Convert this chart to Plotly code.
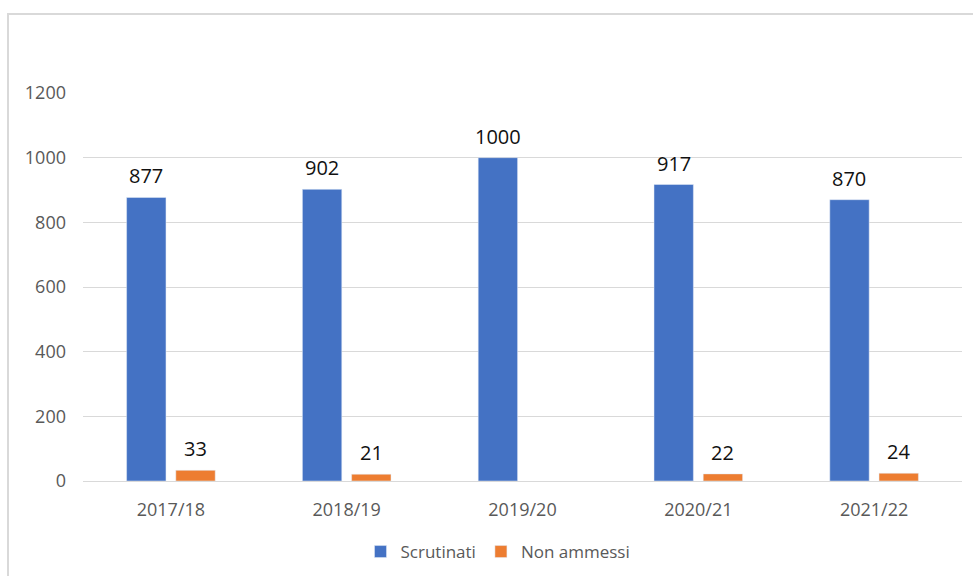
import plotly.graph_objects as go

anni = ["2017/18", "2018/19", "2019/20", "2020/21", "2021/22"]
scrutinati = [877, 902, 1000, 917, 870]
non_ammessi = [33, 21, None, 22, 24]

BLU = "#4472C4"
ARANCIO = "#ED7D31"
FONT = "Open Sans, Liberation Sans, sans-serif"

fig = go.Figure()
fig.add_trace(go.Bar(name="Scrutinati", x=anni, y=scrutinati, marker_color=BLU))
fig.add_trace(go.Bar(name="Non ammessi", x=anni, y=non_ammessi, marker_color=ARANCIO))

# value labels above each bar
slot = 0.28
for serie, off in ((scrutinati, -slot / 2), (non_ammessi, slot / 2)):
    for i, v in enumerate(serie):
        if v is None:
            continue
        fig.add_annotation(x=i + off, y=v, text=str(v), showarrow=False,
                           yanchor="bottom", yshift=6,
                           font=dict(family=FONT, size=20, color="#111111"))

# outer chart frame
fig.add_shape(type="rect", xref="paper", yref="paper",
              x0=(8 - 83) / 879, x1=1.1, y0=-0.5, y1=(481 - 14) / 388,
              line=dict(color="#d9d9d9", width=2), fillcolor="rgba(0,0,0,0)")

fig.update_layout(
    width=973, height=576,
    margin=dict(l=83, r=11, t=93, b=95),
    paper_bgcolor="white", plot_bgcolor="white",
    barmode="group", bargap=0.44, bargroupgap=0.2,
    font=dict(family=FONT, size=17, color="#595959"),
    legend=dict(orientation="h", xref="container", yref="container",
                x=498 / 973, xanchor="center",
                y=1 - 552 / 576, yanchor="middle",
                font=dict(size=17, color="#595959"), itemwidth=30,
                traceorder="normal"),
    xaxis=dict(showgrid=False, showline=True, linecolor="#d9d9d9", linewidth=1,
               ticks="", ticklabelstandoff=12, automargin=False,
               tickfont=dict(size=18, color="#595959")),
    yaxis=dict(range=[0, 1200], tickvals=[0, 200, 400, 600, 800, 1000, 1200],
               showgrid=True, gridcolor="#d9d9d9", gridwidth=1,
               zeroline=False, showline=False, ticks="", automargin=False,
               ticklabelstandoff=16,
               tickfont=dict(size=18, color="#595959")),
)

fig.write_html("out.html")
